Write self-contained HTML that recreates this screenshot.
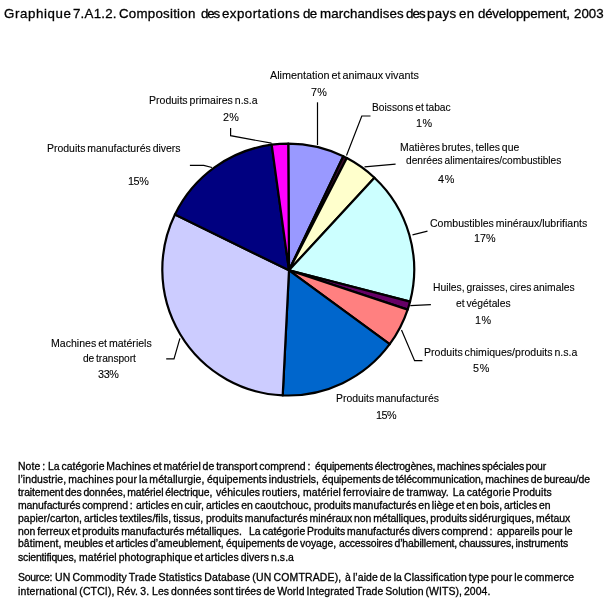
<!DOCTYPE html>
<html><head><meta charset="utf-8">
<style>
html,body{margin:0;padding:0;background:#fff;}
body{width:611px;height:602px;position:relative;overflow:hidden;font-family:"Liberation Sans",sans-serif;color:#000;}
.t{position:absolute;white-space:nowrap;line-height:1;will-change:transform;-webkit-text-stroke:0.3px #000;filter:blur(0.35px);font-family:"Liberation Sans",sans-serif;}
.l{-webkit-text-stroke:0.1px #000;}
svg{position:absolute;left:0;top:0;}
</style></head><body>
<svg width="611" height="602" viewBox="0 0 611 602">
<g stroke="#000" stroke-width="2.2" stroke-linejoin="round">
<path d="M289.00,270.30 L288.25,143.60 A125.95,125.95 0 0 1 343.30,156.27 Z" fill="#9999FF"/>
<path d="M289.00,270.30 L343.30,156.27 A125.95,125.95 0 0 1 346.84,158.06 Z" fill="#3A0A2A"/>
<path d="M289.00,270.30 L346.84,158.06 A125.95,125.95 0 0 1 374.47,177.74 Z" fill="#FFFFCC"/>
<path d="M289.00,270.30 L374.47,177.74 A125.95,125.95 0 0 1 410.04,301.64 Z" fill="#CCFFFF"/>
<path d="M289.00,270.30 L410.04,301.64 A125.95,125.95 0 0 1 407.66,309.60 Z" fill="#660066"/>
<path d="M289.00,270.30 L407.66,309.60 A125.95,125.95 0 0 1 389.68,344.22 Z" fill="#FF8080"/>
<path d="M289.00,270.30 L389.68,344.22 A125.95,125.95 0 0 1 282.71,395.38 Z" fill="#0066CC"/>
<path d="M289.00,270.30 L282.71,395.38 A125.95,125.95 0 0 1 174.97,214.50 Z" fill="#CCCCFF"/>
<path d="M289.00,270.30 L174.97,214.50 A125.95,125.95 0 0 1 271.68,144.69 Z" fill="#000080"/>
<path d="M289.00,270.30 L271.68,144.69 A125.95,125.95 0 0 1 288.25,143.60 Z" fill="#FF00FF"/>
</g>
<g stroke="#000" stroke-width="1.2" fill="none">
<path d="M317.5,102.3 L317.5,145"/>
<path d="M230.6,128 L230.6,135.7 L271.5,143.2"/>
<path d="M370.5,116 L361.8,116 L346.5,155.5"/>
<path d="M395.6,164.2 L364.5,166.8"/>
<path d="M427.5,231.2 L412.5,234.9"/>
<path d="M430.9,304.7 L410.3,305.7"/>
<path d="M422.4,360.7 L414.6,360.7 L401.5,330.1"/>
<path d="M189.9,165.4 L203.8,165.4 L212,167.5"/>
<path d="M166.2,358.8 L174,358.8 L179.9,338.3"/>
</g>
</svg>
<div class="t" style="left:3.93px;top:6.84px;font-size:13.30px;letter-spacing:0.593px;word-spacing:0.000px">Graphique</div>
<div class="t" style="left:72.82px;top:6.84px;font-size:13.30px;letter-spacing:0.225px;word-spacing:0.000px">7.A1.2.</div>
<div class="t" style="left:119.22px;top:6.84px;font-size:13.30px;letter-spacing:0.241px;word-spacing:0.000px">Composition</div>
<div class="t" style="left:200.54px;top:6.84px;font-size:13.30px;letter-spacing:-1.103px;word-spacing:0.000px">des</div>
<div class="t" style="left:221.54px;top:6.84px;font-size:13.30px;letter-spacing:0.472px;word-spacing:0.000px">exportations</div>
<div class="t" style="left:302.54px;top:6.84px;font-size:13.30px;letter-spacing:-0.645px;word-spacing:0.000px">de</div>
<div class="t" style="left:319.62px;top:6.84px;font-size:13.30px;letter-spacing:0.088px;word-spacing:0.000px">marchandises</div>
<div class="t" style="left:405.54px;top:6.84px;font-size:13.30px;letter-spacing:-0.953px;word-spacing:0.000px">des</div>
<div class="t" style="left:427.44px;top:6.84px;font-size:13.30px;letter-spacing:0.381px;word-spacing:0.000px">pays</div>
<div class="t" style="left:458.64px;top:6.84px;font-size:13.30px;letter-spacing:0.435px;word-spacing:0.000px">en</div>
<div class="t" style="left:477.74px;top:6.84px;font-size:13.30px;letter-spacing:-0.215px;word-spacing:0.000px">développement,</div>
<div class="t" style="left:574.43px;top:6.84px;font-size:13.30px;letter-spacing:0.022px;word-spacing:0.000px">2003</div>
<div class="t l" style="left:269.88px;top:69.95px;font-size:10.81px;letter-spacing:0.000px;word-spacing:-1.000px">Alimentation et animaux vivants</div>
<div class="t l" style="left:310.65px;top:87.46px;font-size:10.80px;letter-spacing:0.329px;word-spacing:0.000px">7%</div>
<div class="t l" style="left:148.84px;top:94.88px;font-size:10.54px;letter-spacing:-0.000px;word-spacing:-1.000px">Produits primaires n.s.a</div>
<div class="t l" style="left:223.16px;top:111.66px;font-size:10.80px;letter-spacing:0.318px;word-spacing:0.000px">2%</div>
<div class="t l" style="left:371.86px;top:102.75px;font-size:10.22px;letter-spacing:0.000px;word-spacing:-1.000px">Boissons et tabac</div>
<div class="t l" style="left:416.08px;top:118.06px;font-size:10.80px;letter-spacing:0.398px;word-spacing:0.000px">1%</div>
<div class="t l" style="left:399.64px;top:143.37px;font-size:10.43px;letter-spacing:0.000px;word-spacing:-1.000px">Matières brutes, telles que</div>
<div class="t l" style="left:405.57px;top:155.57px;font-size:10.20px;letter-spacing:-0.017px;word-spacing:-1.000px">denrées alimentaires/combustibles</div>
<div class="t l" style="left:438.25px;top:174.36px;font-size:10.80px;letter-spacing:0.723px;word-spacing:0.000px">4%</div>
<div class="t l" style="left:429.76px;top:217.56px;font-size:10.56px;letter-spacing:0.000px;word-spacing:-1.000px">Combustibles minéraux/lubrifiants</div>
<div class="t l" style="left:474.48px;top:233.36px;font-size:10.80px;letter-spacing:-0.004px;word-spacing:0.000px">17%</div>
<div class="t l" style="left:433.25px;top:282.95px;font-size:10.34px;letter-spacing:0.000px;word-spacing:-1.000px">Huiles, graisses, cires animales</div>
<div class="t l" style="left:455.86px;top:298.77px;font-size:10.31px;letter-spacing:0.000px;word-spacing:-1.000px">et végétales</div>
<div class="t l" style="left:475.08px;top:314.56px;font-size:10.80px;letter-spacing:0.398px;word-spacing:0.000px">1%</div>
<div class="t l" style="left:423.63px;top:347.27px;font-size:10.55px;letter-spacing:0.000px;word-spacing:-1.000px">Produits chimiques/produits n.s.a</div>
<div class="t l" style="left:473.27px;top:362.66px;font-size:10.80px;letter-spacing:0.808px;word-spacing:0.000px">5%</div>
<div class="t l" style="left:335.65px;top:394.10px;font-size:10.40px;letter-spacing:0.000px;word-spacing:-1.000px">Produits manufacturés</div>
<div class="t l" style="left:375.68px;top:409.76px;font-size:10.80px;letter-spacing:-0.504px;word-spacing:0.000px">15%</div>
<div class="t l" style="left:47.24px;top:144.13px;font-size:10.48px;letter-spacing:0.000px;word-spacing:-1.000px">Produits manufacturés divers</div>
<div class="t l" style="left:127.88px;top:175.86px;font-size:10.80px;letter-spacing:-0.404px;word-spacing:0.000px">15%</div>
<div class="t l" style="left:50.63px;top:337.85px;font-size:10.57px;letter-spacing:0.000px;word-spacing:-1.000px">Machines et matériels</div>
<div class="t l" style="left:83.37px;top:353.87px;font-size:10.20px;letter-spacing:-0.048px;word-spacing:-1.000px">de transport</div>
<div class="t l" style="left:98.29px;top:368.56px;font-size:10.80px;letter-spacing:-0.360px;word-spacing:0.000px">33%</div>
<div class="t" style="left:17.64px;top:461.65px;font-size:10.45px;letter-spacing:0.066px;word-spacing:-1.000px">Note :</div>
<div class="t" style="left:48.04px;top:461.65px;font-size:10.45px;letter-spacing:0.002px;word-spacing:-1.000px">La catégorie Machines et matériel de transport comprend :</div>
<div class="t" style="left:315.06px;top:461.65px;font-size:10.45px;letter-spacing:-0.166px;word-spacing:-1.000px">équipements électrogènes, machines spéciales pour</div>
<div class="t" style="left:17.80px;top:474.75px;font-size:10.45px;letter-spacing:0.102px;word-spacing:-1.000px">l’industrie, machines pour la métallurgie,</div>
<div class="t" style="left:207.06px;top:474.75px;font-size:10.45px;letter-spacing:0.013px;word-spacing:-1.000px">équipements industriels,</div>
<div class="t" style="left:321.66px;top:474.75px;font-size:10.45px;letter-spacing:-0.113px;word-spacing:-1.000px">équipements de télécommunication, machines de bureau/de</div>
<div class="t" style="left:18.34px;top:487.85px;font-size:10.45px;letter-spacing:-0.110px;word-spacing:-1.000px">traitement des données, matériel électrique,</div>
<div class="t" style="left:215.96px;top:487.85px;font-size:10.45px;letter-spacing:0.064px;word-spacing:-1.000px">véhicules routiers,</div>
<div class="t" style="left:302.71px;top:487.85px;font-size:10.45px;letter-spacing:0.108px;word-spacing:-1.000px">matériel ferroviaire de tramway. &nbsp;La catégorie Produits</div>
<div class="t" style="left:17.81px;top:500.95px;font-size:10.45px;letter-spacing:-0.075px;word-spacing:-1.000px">manufacturés comprend :</div>
<div class="t" style="left:135.86px;top:500.95px;font-size:10.45px;letter-spacing:0.012px;word-spacing:-1.000px">articles en cuir,</div>
<div class="t" style="left:206.36px;top:500.95px;font-size:10.45px;letter-spacing:0.027px;word-spacing:-1.000px">articles en caoutchouc,</div>
<div class="t" style="left:314.23px;top:500.95px;font-size:10.45px;letter-spacing:0.007px;word-spacing:-1.000px">produits manufacturés en liège et en bois, articles en</div>
<div class="t" style="left:17.83px;top:513.55px;font-size:10.45px;letter-spacing:0.009px;word-spacing:0.000px">papier/carton,</div>
<div class="t" style="left:84.46px;top:513.55px;font-size:10.45px;letter-spacing:0.055px;word-spacing:-1.000px">articles textiles/fils, tissus,</div>
<div class="t" style="left:206.13px;top:513.55px;font-size:10.45px;letter-spacing:-0.032px;word-spacing:-1.000px">produits manufacturés minéraux non métalliques, produits sidérurgiques, métaux</div>
<div class="t" style="left:17.81px;top:526.65px;font-size:10.45px;letter-spacing:-0.008px;word-spacing:-1.000px">non ferreux et produits manufacturés métalliques.</div>
<div class="t" style="left:249.24px;top:526.65px;font-size:10.45px;letter-spacing:-0.022px;word-spacing:-1.000px">La catégorie Produits manufacturés divers comprend :</div>
<div class="t" style="left:496.86px;top:526.65px;font-size:10.45px;letter-spacing:0.028px;word-spacing:-1.000px">appareils pour le</div>
<div class="t" style="left:17.83px;top:539.45px;font-size:10.45px;letter-spacing:0.053px;word-spacing:0.000px">bâtiment,</div>
<div class="t" style="left:63.61px;top:539.45px;font-size:10.45px;letter-spacing:-0.047px;word-spacing:-1.000px">meubles et articles d’ameublement,</div>
<div class="t" style="left:226.06px;top:539.45px;font-size:10.45px;letter-spacing:-0.076px;word-spacing:-1.000px">équipements de voyage,</div>
<div class="t" style="left:338.96px;top:539.45px;font-size:10.45px;letter-spacing:-0.127px;word-spacing:-1.000px">accessoires d’habillement, chaussures, instruments</div>
<div class="t" style="left:18.21px;top:552.55px;font-size:10.45px;letter-spacing:-0.152px;word-spacing:0.000px">scientifiques,</div>
<div class="t" style="left:79.01px;top:552.55px;font-size:10.45px;letter-spacing:0.075px;word-spacing:-1.000px">matériel photographique et articles divers n.s.a</div>
<div class="t" style="left:18.03px;top:573.45px;font-size:10.45px;letter-spacing:-0.264px;word-spacing:0.000px">Source:</div>
<div class="t" style="left:55.29px;top:573.45px;font-size:10.45px;letter-spacing:0.176px;word-spacing:-1.000px">UN Commodity Trade Statistics Database (UN COMTRADE),</div>
<div class="t" style="left:344.86px;top:573.45px;font-size:10.45px;letter-spacing:0.099px;word-spacing:-1.000px">à l’aide de la Classification type pour le commerce</div>
<div class="t" style="left:17.80px;top:586.55px;font-size:10.45px;letter-spacing:0.176px;word-spacing:-1.000px">international (CTCI), Rév. 3.</div>
<div class="t" style="left:151.84px;top:586.55px;font-size:10.45px;letter-spacing:0.072px;word-spacing:-1.000px">Les données sont tirées de World Integrated Trade Solution (WITS), 2004.</div>
</body></html>
